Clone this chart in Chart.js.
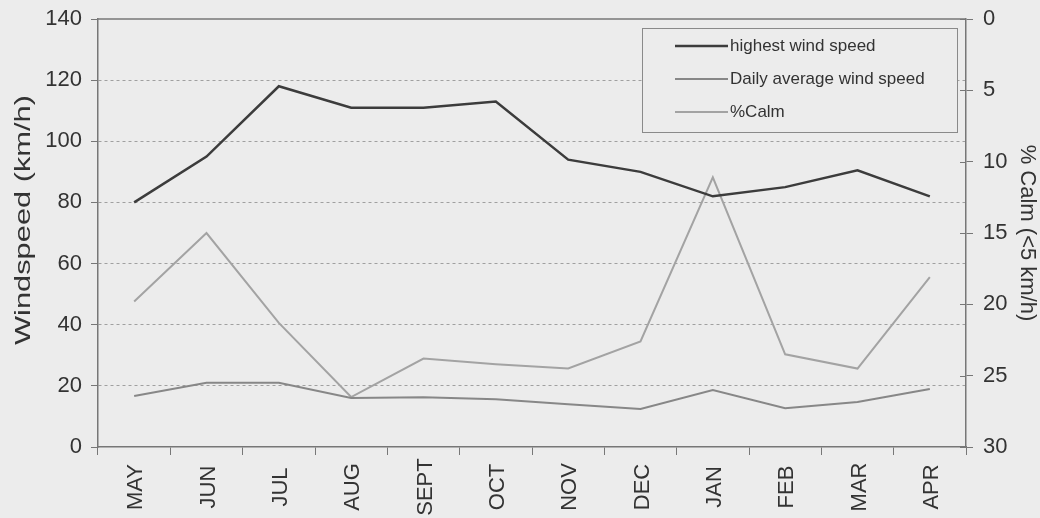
<!DOCTYPE html>
<html>
<head>
<meta charset="utf-8">
<script src="https://cdn.jsdelivr.net/npm/chart.js"></script>
<style>
  html, body { margin: 0; padding: 0; background: #ececec; }
  #wrap { width: 1040px; height: 518px; }
</style>
</head>
<body>
<div id="wrap"><canvas id="windChart" width="1040" height="518"></canvas></div>
<script>
// data
const months = ['MAY', 'JUN', 'JUL', 'AUG', 'SEPT', 'OCT', 'NOV', 'DEC', 'JAN', 'FEB', 'MAR', 'APR'];
const highestSpeed = [80, 95, 118, 111, 111, 113, 94, 90, 82, 85, 90.5, 82];
const dailyAverage = [16.7, 21, 21, 16, 16.3, 15.6, 14, 12.4, 18.6, 12.7, 14.7, 19];
const calmPercent = [19.8, 15.0, 21.3, 26.5, 23.8, 24.2, 24.5, 22.6, 11.1, 23.5, 24.5, 18.1];
const speedTicks = [0, 20, 40, 60, 80, 100, 120, 140];
const calmTicks = [0, 5, 10, 15, 20, 25, 30];

const FONT = "'Liberation Sans', Arial, sans-serif";
const TEXT = '#333333';
const AXIS = '#777777';

// frame top line, inner right ticks, month labels, left title, legend
const extras = {
    id: 'extras',
    afterDraw(chart) {
        const ctx = chart.ctx;
        const area = chart.chartArea;
        const xs = chart.scales.x;
        const y1 = chart.scales.y1;

        ctx.save();
        ctx.strokeStyle = AXIS;
        ctx.lineWidth = 1.5;
        ctx.beginPath();
        ctx.moveTo(area.left, area.top);
        ctx.lineTo(area.right, area.top);
        ctx.stroke();

        // right axis ticks also poke into the plot
        ctx.lineWidth = 1;
        calmTicks.forEach(v => {
            const py = Math.round(y1.getPixelForValue(v)) + 0.5;
            ctx.beginPath();
            ctx.moveTo(area.right - 6, py);
            ctx.lineTo(area.right, py);
            ctx.stroke();
        });

        // month labels, rotated and centred
        ctx.fillStyle = TEXT;
        ctx.font = '22px ' + FONT;
        ctx.textAlign = 'center';
        ctx.textBaseline = 'alphabetic';
        months.forEach((m, i) => {
            ctx.save();
            ctx.translate(xs.getPixelForValue(i), 487);
            ctx.rotate(-Math.PI / 2);
            ctx.fillText(m, 0, 8);
            ctx.restore();
        });

        // left axis title (stretched like the original)
        ctx.save();
        ctx.translate(22, 220);
        ctx.rotate(-Math.PI / 2);
        ctx.scale(1.4, 1);
        ctx.font = '22px ' + FONT;
        ctx.fillText('Windspeed (km/h)', 0, 8);
        ctx.restore();

        // legend box
        const lx = 642, ly = 28, lw = 315, lh = 104;
        ctx.fillStyle = '#ececec';
        ctx.fillRect(lx, ly, lw, lh);
        ctx.strokeStyle = '#8a8a8a';
        ctx.lineWidth = 1;
        ctx.strokeRect(lx + 0.5, ly + 0.5, lw, lh);
        const rows = [46, 79, 112];
        chart.data.datasets.forEach((ds, i) => {
            ctx.strokeStyle = ds.borderColor;
            ctx.lineWidth = ds.borderWidth;
            ctx.beginPath();
            ctx.moveTo(675, rows[i]);
            ctx.lineTo(728, rows[i]);
            ctx.stroke();
            ctx.fillStyle = TEXT;
            ctx.font = '17px ' + FONT;
            ctx.textAlign = 'left';
            ctx.textBaseline = 'middle';
            ctx.fillText(ds.label, 730, rows[i]);
        });
        ctx.restore();
    }
};

const noPad = s => { s.paddingTop = 0; s.paddingBottom = 0; };

const ctx = document.getElementById('windChart');
new Chart(ctx, {
    type: 'line',
    data: {
        labels: months,
        datasets: [
            { label: 'highest wind speed', data: highestSpeed, yAxisID: 'y',
              borderColor: '#3c3c3c', borderWidth: 2.5, pointRadius: 0, tension: 0 },
            { label: 'Daily average wind speed', data: dailyAverage, yAxisID: 'y',
              borderColor: '#878787', borderWidth: 2, pointRadius: 0, tension: 0 },
            { label: '%Calm', data: calmPercent, yAxisID: 'y1',
              borderColor: '#a3a3a3', borderWidth: 2, pointRadius: 0, tension: 0 }
        ]
    },
    options: {
        responsive: false,
        animation: false,
        layout: { padding: { top: 19, bottom: 0, left: 0, right: 0 } },
        plugins: { legend: { display: false }, tooltip: { enabled: false } },
        scales: {
            x: {
                offset: true,
                grid: { offset: true, drawOnChartArea: false, drawTicks: true, tickLength: 8, color: AXIS },
                border: { color: AXIS, width: 1.5 },
                ticks: { display: false },
                afterFit: s => { s.height = 71; s.paddingLeft = 0; s.paddingRight = 0; }
            },
            y: {
                position: 'left',
                min: 0, max: 140,
                afterBuildTicks: s => { s.ticks = speedTicks.map(v => ({ value: v })); },
                ticks: { color: TEXT, font: { family: FONT, size: 22 }, padding: 9 },
                grid: {
                    color: c => (c.tick && (c.tick.value === 0 || c.tick.value === 140)) ? 'rgba(0,0,0,0)' : '#a0a0a0',
                    tickColor: AXIS, tickLength: 7, tickBorderDash: [], lineWidth: 1
                },
                border: { color: AXIS, width: 1.5, dash: [3, 3] },
                afterFit: s => { s.width = 98; noPad(s); }
            },
            y1: {
                position: 'right',
                min: 0, max: 30, reverse: true,
                afterBuildTicks: s => { s.ticks = calmTicks.map(v => ({ value: v })); },
                ticks: { color: TEXT, font: { family: FONT, size: 22 }, padding: 10 },
                grid: { drawOnChartArea: false, tickColor: AXIS, tickLength: 7 },
                border: { color: AXIS, width: 1.5 },
                title: { display: true, text: '% Calm (<5 km/h)', color: TEXT,
                         font: { family: FONT, size: 22 }, padding: 0 },
                afterFit: s => { s.width = 74; noPad(s); }
            }
        }
    },
    plugins: [extras]
});
</script>
</body>
</html>
